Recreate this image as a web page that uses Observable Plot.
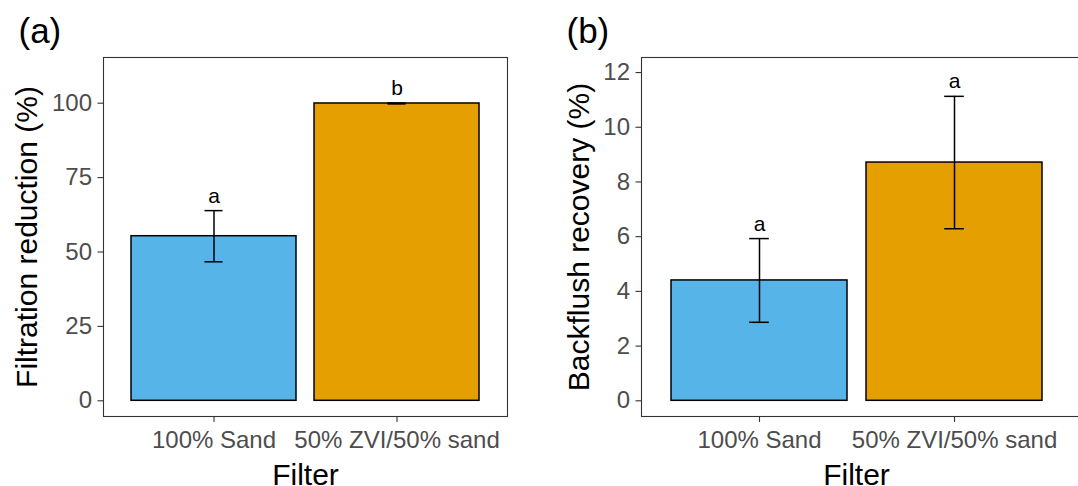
<!DOCTYPE html>
<html>
<head>
<meta charset="utf-8">
<script src="https://cdn.jsdelivr.net/npm/d3@7"></script>
<script src="https://cdn.jsdelivr.net/npm/@observablehq/plot@0.6"></script>
<style>
  html, body { margin: 0; padding: 0; background: #fff; }
  #wrap { position: relative; width: 1078px; height: 486px; overflow: hidden; background: #fff; }
  #wrap svg { position: absolute; top: 0; }
</style>
</head>
<body>
<div id="wrap"></div>
<script>
// ---- data ----
const filters = ["100% Sand", "50% ZVI/50% sand"];
const barColors = ["#56B4E9", "#E69F00"];

const reductionMean = [55.3, 99.9];
const reductionSE = [8.6, 0.15];
const reductionLetters = ["a", "b"];
const reductionTicks = [0, 25, 50, 75, 100];

const recoveryMean = [4.40, 8.71];
const recoverySE = [1.53, 2.42];
const recoveryLetters = ["a", "a"];
const recoveryTicks = [0, 2, 4, 6, 8, 10, 12];

const FONT = "Liberation Sans, Arial, sans-serif";

function panel({means, ses, letters, ticks, yDomain, yTitle, tag, width, marginLeft, marginRight, xRange, titleOffset, xTitleDx, tagDx}) {
  const rows = filters.map((f, i) => ({
    filter: f, mean: means[i], lo: means[i] - ses[i], hi: means[i] + ses[i], letter: letters[i]
  }));
  const r0 = xRange ? xRange[0] : marginLeft;
  const r1 = xRange ? xRange[1] : width - marginRight;
  const step = (r1 - r0) / 2.2;
  const capInset = 0.4 * step;
  const xOpts = {type: "band", domain: filters, paddingInner: 0.1, paddingOuter: 0.15, align: 0.5};
  if (xRange) xOpts.range = xRange;
  return Plot.plot({
    width, height: 486,
    marginLeft, marginRight, marginTop: 57, marginBottom: 70,
    style: {fontFamily: FONT, background: "transparent", overflow: "visible"},
    x: xOpts,
    y: {domain: yDomain, nice: false},
    color: {domain: filters, range: barColors},
    marks: [
      Plot.barY(rows, {x: "filter", y: "mean", fill: "filter", stroke: "black", strokeWidth: 1.5}),
      Plot.ruleX(rows, {x: "filter", y1: "lo", y2: "hi", stroke: "black", strokeWidth: 1.5}),
      Plot.tickY(rows, {x: "filter", y: "hi", stroke: "black", strokeWidth: 1.5, insetLeft: capInset, insetRight: capInset}),
      Plot.tickY(rows, {x: "filter", y: "lo", stroke: "black", strokeWidth: 1.5, insetLeft: capInset, insetRight: capInset}),
      Plot.text(rows, {x: "filter", y: "hi", text: "letter", dy: -8, lineAnchor: "bottom", fontSize: 21, fill: "black"}),
      Plot.frame({stroke: "#333333", strokeWidth: 1.1}),
      Plot.axisY({ticks, tickSize: 5.5, tickPadding: 6, fontSize: 24, label: null, stroke: "#333333", fill: "#4D4D4D", strokeWidth: 1.1}),
      Plot.axisX({tickSize: 6, tickPadding: 8, fontSize: 24, label: null, stroke: "#333333", fill: "#4D4D4D", strokeWidth: 1.1}),
      Plot.text([yTitle], {frameAnchor: "left", rotate: -90, dx: -titleOffset, lineAnchor: "top", textAnchor: "middle", fontSize: 30, fill: "black"}),
      Plot.text(["Filter"], {frameAnchor: "bottom", dx: xTitleDx, dy: 47, lineAnchor: "top", textAnchor: "middle", fontSize: 30, fill: "black"}),
      Plot.text([tag], {frameAnchor: "top-left", dx: tagDx, dy: -15, lineAnchor: "bottom", textAnchor: "start", fontSize: 35, fill: "black"})
    ]
  });
}

const wrap = document.getElementById("wrap");

const a = panel({
  means: reductionMean, ses: reductionSE, letters: reductionLetters, ticks: reductionTicks,
  yDomain: [-5.275, 115.35], yTitle: "Filtration reduction (%)", tag: "(a)",
  width: 540, marginLeft: 103, marginRight: 33, titleOffset: 88, xTitleDx: 0, tagDx: -85
});
a.style.left = "0px";
wrap.appendChild(a);

const b = panel({
  means: recoveryMean, ses: recoverySE, letters: recoveryLetters, ticks: recoveryTicks,
  yDomain: [-0.574, 12.55], yTitle: "Backflush recovery (%)", tag: "(b)",
  width: 560, marginLeft: 101, marginRight: 15, xRange: [101, 531], titleOffset: 74, xTitleDx: -7, tagDx: -75
});
b.style.left = "540px";
wrap.appendChild(b);
</script>
</body>
</html>
